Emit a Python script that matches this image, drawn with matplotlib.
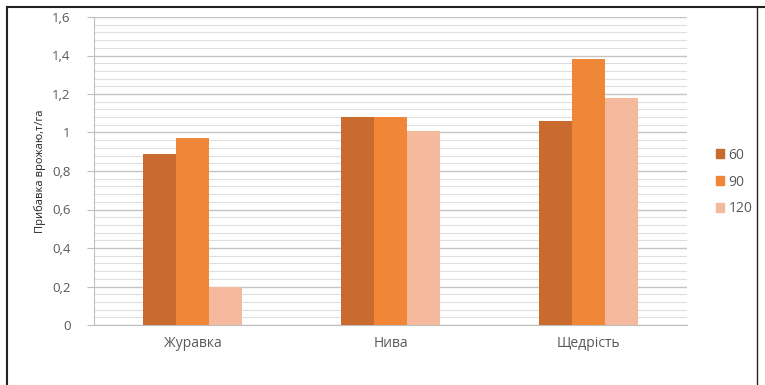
import matplotlib
matplotlib.use("Agg")
import matplotlib.pyplot as plt
import numpy as np
from matplotlib.lines import Line2D
from matplotlib.ticker import MultipleLocator

categories = ["Журавка", "Нива", "Щедрість"]
series_names = ["60", "90", "120"]
s60 = [0.89, 1.08, 1.06]
s90 = [0.97, 1.08, 1.38]
s120 = [0.20, 1.01, 1.18]
yticks = [0, 0.2, 0.4, 0.6, 0.8, 1.0, 1.2, 1.4, 1.6]
ytick_labels = ["0", "0,2", "0,4", "0,6", "0,8", "1", "1,2", "1,4", "1,6"]
ylabel = "Прибавка врожаю,т/га"

colors = ["#C96A2E", "#EF8638", "#F5B99E"]
txt = "#595959"

plt.rcParams['font.family'] = ['Open Sans', 'DejaVu Sans']

fig = plt.figure(figsize=(7.65, 3.85), dpi=100)
ax = fig.add_axes([94/765, 1-325/385, (687-94)/765, (325-17)/385])

x = np.arange(len(categories))
w = 1/6
for i, (vals, c, n) in enumerate(zip([s60, s90, s120], colors, series_names)):
    ax.bar(x + (i-1)*w, vals, width=w, color=c, label=n, zorder=3, linewidth=0)

ax.set_xlim(-0.5, len(categories)-0.5)
ax.set_ylim(0, 1.6)
ax.set_yticks(yticks)
ax.set_yticklabels(ytick_labels, fontsize=9.5, color=txt)
ax.yaxis.set_minor_locator(MultipleLocator(0.04))
ax.grid(which='major', axis='y', color='#c4c4c4', linewidth=1.0, zorder=0)
ax.grid(which='minor', axis='y', color='#dedede', linewidth=0.8, zorder=0)
ax.tick_params(axis='y', which='major', length=5, color='#bfbfbf', pad=12)
ax.tick_params(axis='y', which='minor', length=0)
ax.set_xticks(x)
ax.set_xticklabels(categories, fontsize=10, color=txt)
ax.tick_params(axis='x', length=0, pad=8)
for s in ['top', 'right']:
    ax.spines[s].set_visible(False)
ax.spines['left'].set_color('#bfbfbf')
ax.spines['bottom'].set_color('#bfbfbf')
ax.set_ylabel(ylabel, fontsize=8, color='#222222', labelpad=4)

handles = [plt.Rectangle((0, 0), 1, 1, color=c) for c in colors]
fig.legend(handles, series_names, loc='center left', bbox_to_anchor=(716/765, 1-182/385),
           frameon=False, fontsize=10, labelcolor=txt, handlelength=0.6, handleheight=0.6,
           handletextpad=0.3, labelspacing=0.85, borderaxespad=0, borderpad=0)

# outer frame
fig.add_artist(Line2D([7/765, 7/765], [0, 1-7/385], transform=fig.transFigure, color='#222222', lw=1.5))
fig.add_artist(Line2D([7/765, 1], [1-7/385, 1-7/385], transform=fig.transFigure, color='#222222', lw=1.5))
fig.add_artist(Line2D([757/765, 757/765], [0, 1-7/385], transform=fig.transFigure, color='#222222', lw=1.0))

fig.savefig("out.png", dpi=100)
